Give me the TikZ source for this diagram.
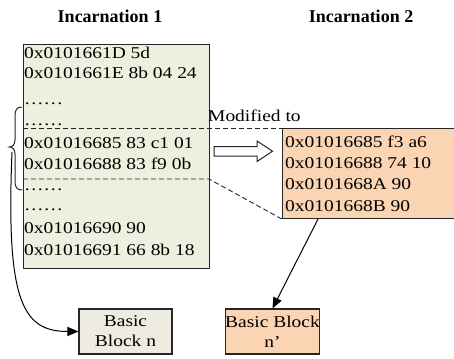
\documentclass[tikz,border=0pt]{standalone}
\usepackage{fontspec}
\setmainfont{Liberation Serif}
\newfontfamily\codefont[FakeStretch=1.18]{Liberation Serif}
\usetikzlibrary{arrows.meta}

\definecolor{inkline}{HTML}{262626}
\definecolor{greenfill}{HTML}{EBF1DE}
\definecolor{orangefill}{HTML}{FBD4B4}
\definecolor{beigefill}{HTML}{EEECE1}

\tikzset{
  title/.style={font=\fontsize{18}{20}\selectfont\bfseries, inner sep=0pt},
  codeline/.style={font=\codefont\fontsize{16.5}{20}\selectfont, anchor=base west, inner sep=0pt},
  listbox/.style={draw=inkline, line width=1.1pt, anchor=north west, inner sep=0pt},
  blockbox/.style={draw=inkline, line width=1.1pt, minimum width=93pt, minimum height=45pt,
    inner sep=0pt, align=center, font=\codefont\fontsize{16.5}{20}\selectfont},
  selection/.style={draw=inkline, line width=0.9pt, dash pattern=on 5pt off 3pt},
  link/.style={draw=black, line width=1pt, -{Triangle[length=11pt,width=9pt]}},
}

\begin{document}
\begin{tikzpicture}[x=1pt, y=-1pt]
\clip (0,0) rectangle (454,358);
\fill[white] (0,0) rectangle (454,358);

% column headings
\node[title] (head1) at (110,16) {Incarnation 1};
\node[title] (head2) at (361,16) {Incarnation 2};

% instruction listing of the first incarnation
\node[listbox, fill=greenfill, minimum width=186pt, minimum height=224pt] (inc1) at (23,44) {};
\foreach \y/\t [count=\i] in {
  59/0x0101661D 5d,
  79/0x0101661E 8b 04 24,
  105/……,
  126/……,
  148/0x01016685 83 c1 01,
  169/0x01016688 83 f9 0b,
  190/……,
  210/……,
  233/0x01016690 90,
  255/0x01016691 66 8b 18}
  \node[codeline] (a\i) at (24,\y) {\t};

% rewritten instructions of the second incarnation
\node[listbox, fill=orangefill, minimum width=190pt, minimum height=90pt] (inc2) at (282,128) {};
\foreach \y/\t [count=\i] in {
  147/0x01016685 f3 a6,
  168/0x01016688 74 10,
  189/0x0101668A 90,
  211/0x0101668B 90}
  \node[codeline] (b\i) at (285,\y) {\t};

% basic blocks
\node[blockbox, fill=beigefill] (bbn) at (125.5,331.5) {Basic\\Block n};
\node[blockbox, fill=orangefill] (bbm) at (272.5,331.5) {Basic Block\\n’};

% the modified region and its projection
\coordinate (selbl) at (23,179);
\coordinate (selbr) at (209,179);
\draw[selection] (inc1.west |- inc2.north west) -- (inc2.north west);
\draw[selection] (selbl) -- (selbr) -- (inc2.south west);

\node[codeline] (modlabel) at (208,122) {Modified to};

% hollow arrow
\draw[draw=inkline, line width=1pt, fill=white]
  (214,146.5) -- (257,146.5) -- (257,141) -- (272.5,151.2) -- (257,161.5)
  -- (257,156) -- (214,156) -- cycle;

% brace grouping the modified instructions
\coordinate (bracetip) at (9.5,147);
\draw[inkline, line width=1pt]
  (22,107) .. controls (17,107) and (15,110) .. (15,115) -- (15,140)
  .. controls (15,145) and (12,147) .. (bracetip)
  .. controls (12,147) and (15,149) .. (15,154) -- (15,182)
  .. controls (15,187) and (17,190) .. (22,190);

% connectors to the basic blocks
\coordinate (bracefoot) at (12,152);
\draw[link] (bracefoot) .. controls (6,300) and (22,331.5) .. (bbn.west);
\draw[link] ([xshift=36pt]inc2.south west) -- (bbm.north);
\end{tikzpicture}
\end{document}
